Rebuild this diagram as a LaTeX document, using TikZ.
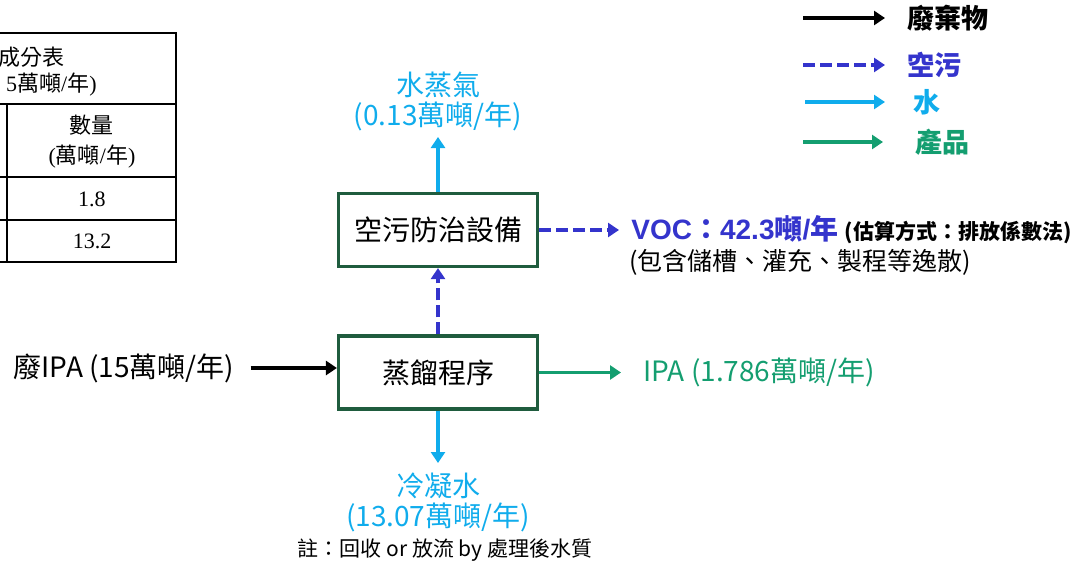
\documentclass[tikz,border=0pt]{standalone}
\usepackage{fontspec}
\setmainfont{Noto Sans CJK TC}
\newfontfamily\tabserif{Liberation Serif}
\newfontfamily\latinsans{Liberation Sans}
\usetikzlibrary{positioning, arrows.meta}

\definecolor{boxgreen}{RGB}{31,92,62}
\definecolor{prodgreen}{RGB}{20,158,112}
\definecolor{waterblue}{RGB}{16,172,236}
\definecolor{airblue}{RGB}{52,52,204}

\tikzset{
    procbox/.style={draw=boxgreen, line width=1.6pt, fill=white, minimum width=99.5pt, minimum height=36.5pt, font=\fontsize{14}{14}\selectfont},
    flow/.style={line width=1.9pt, -{Triangle[length=5.5pt, width=7pt]}},
    waste/.style={flow, black},
    air/.style={flow, airblue, dash pattern=on 6pt off 2.5pt},
    water/.style={flow, waterblue},
    product/.style={flow, prodgreen},
    lbl/.style={inner sep=0pt, align=center, font=\fontsize{14}{15}\selectfont},
    legendlbl/.style={inner sep=0pt, font=\fontsize{13.5}{14}\selectfont\bfseries},
    tabline/.style={line width=0.7pt},
    tabtext/.style={inner sep=0pt, align=center, font=\fontsize{11}{15}\selectfont},
}

\begin{document}
\begin{tikzpicture}[x=0.5pt, y=-0.5pt]
        \useasboundingbox (0,0) rectangle (1088,568);

        \node[procbox] (apc) at (438,230) {空污防治設備};
        \node[procbox] (dist) at (438,372.5) {蒸餾程序};

        \coordinate (steamtip) at (438,137);
        \coordinate (condtip) at (438,463);
        \coordinate (voctip) at (619,230);
        \coordinate (ipatip) at (621,372.5);

        \node[lbl, text=waterblue, above=3pt of steamtip] (steam) {水蒸氣\\(0.13萬噸/年)};
        \node[lbl, text=waterblue, below=5pt of condtip] (cond) {冷凝水\\(13.07萬噸/年)};
        \node[lbl, text=prodgreen, right=11pt of ipatip] (ipa) {IPA (1.786萬噸/年)};
        \node[lbl] (wipa) at (124,368) {廢IPA (15萬噸/年)};
        \node[lbl, text=airblue, font=\fontsize{14}{14}\selectfont\bfseries, right=6pt of voctip] (voc)
            {{\latinsans VOC}：{\latinsans 42.3}噸{\latinsans /}年 {\color{black}\fontsize{10.5}{12}\selectfont (估算方式：排放係數法)}};
        \node[lbl, anchor=west, font=\fontsize{12.5}{14}\selectfont] (vocnote) at ([xshift=-1pt, yshift=-16pt]voc.west) {(包含儲槽、灌充、製程等逸散)};
        \node[lbl, font=\fontsize{10.5}{12}\selectfont] (note) at (445,550) {註：回收 or 放流 by 處理後水質};

        \draw
            (apc) edge[water] (steamtip)
            (dist) edge[air] (apc)
            (apc) edge[air] (voctip)
            (dist) edge[product] (ipatip)
            (dist) edge[water] (condtip)
            (wipa) edge[waste, shorten <=8pt] (wipa -| dist.west)
            ;

        \coordinate (lgwastea) at (803,18);
        \coordinate (lgwasteb) at (885,18);
        \coordinate (lgaira) at (803,65);
        \coordinate (lgairb) at (885,65);
        \coordinate (lgwatera) at (805,102);
        \coordinate (lgwaterb) at (885,102);
        \coordinate (lgproda) at (803,142);
        \coordinate (lgprodb) at (883,142);

        \node[legendlbl, right=11pt of lgwasteb] (lgwaste) {廢棄物};
        \node[legendlbl, text=airblue, right=11pt of lgairb] (lgair) {空污};
        \node[legendlbl, text=waterblue, right=14pt of lgwaterb] (lgwater) {水};
        \node[legendlbl, text=prodgreen, right=16pt of lgprodb] (lgprod) {產品};

        \draw
            (lgwastea) edge[waste] (lgwasteb)
            (lgaira) edge[air] (lgairb)
            (lgwatera) edge[water] (lgwaterb)
            (lgproda) edge[product] (lgprodb)
            ;

        \draw[tabline] (-5,33) -- (176,33) -- (176,262) -- (-5,262);
        \foreach \y in {104,177,220} \draw[tabline] (-5,\y) -- (176,\y);
        \draw[tabline] (7,104) -- (7,262);
        \node[tabtext, anchor=east] (tabtitle) at (65,57) {成分表};
        \node[tabtext, anchor=east] (tabtotal) at (97,85) {{\tabserif 5}萬噸{\tabserif /}年{\tabserif )}};
        \node[tabtext] (tabhead) at (92,142) {數量\\{\tabserif (}萬噸{\tabserif /}年{\tabserif )}};
        \node[tabtext] (tabrowa) at (92,199) {\tabserif 1.8};
        \node[tabtext] (tabrowb) at (92,241) {\tabserif 13.2};
\end{tikzpicture}
\end{document}
